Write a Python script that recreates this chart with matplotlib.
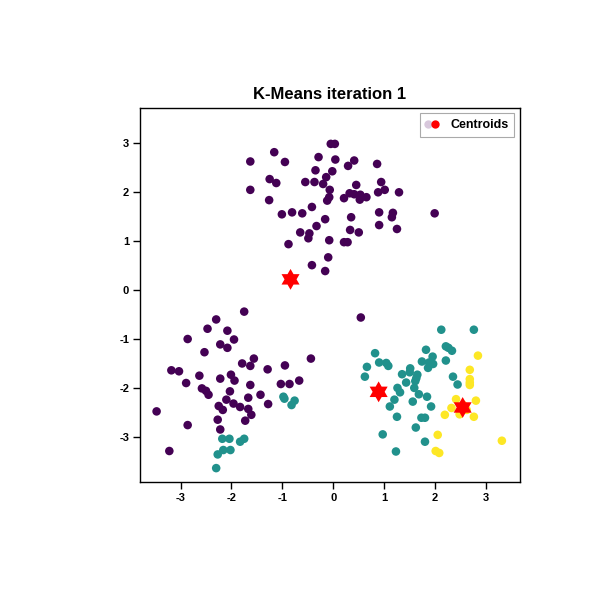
import numpy as np
import matplotlib
matplotlib.use("Agg")
import matplotlib.pyplot as plt
from matplotlib.path import Path
from matplotlib.lines import Line2D
from matplotlib.legend_handler import HandlerTuple

# ---- data ----
purple_x = [-0.05, 0.03, -1.16, -1.63, -0.95, -0.29, 0.04, 0.41, 0.29, 0.86,
            -0.35, -0.02, -0.14, -1.25, -1.12, -0.55, -0.37, -0.20, 0.45, 0.94,
            -1.63, -0.07, 0.88, 1.01, 1.29, 0.32, 0.41, 0.53, 0.65, 0.52,
            0.21, -0.08, -0.12, -1.26, -0.42, -1.01, -0.81, -0.61, 0.35, 0.90,
            1.17, 1.15, 1.99, -0.16, -0.33, -0.65, -0.47, -0.49, 0.33, 0.50,
            0.90, 1.25, -0.88, -0.08, 0.21, 0.28, -0.10, -0.42, -0.16,
            -1.75, -2.30, -2.47, -2.08, -2.86, -1.95, -2.22, -2.08, -2.53, -1.56,
            -0.44, -1.79, -1.63, -0.95, -1.29, -3.18, -3.03, -2.63, -2.01, -2.22,
            -1.94, -2.89, -0.67, -1.03, -0.86, -1.63, -2.58, -2.50, -2.45, -2.03,
            -1.43, -1.67, -2.10, -1.96, -1.28, -2.25, -2.17, -1.83, -1.67, -1.61,
            -3.47, -2.27, -1.73, -2.86, -2.22, -3.22, 0.54]
purple_y = [2.99, 2.99, 2.82, 2.63, 2.62, 2.72, 2.67, 2.65, 2.54, 2.58,
            2.45, 2.43, 2.31, 2.27, 2.19, 2.21, 2.21, 2.17, 2.15, 2.21,
            2.05, 2.05, 2.00, 2.05, 2.00, 1.98, 1.96, 1.95, 1.90, 1.85,
            1.88, 1.90, 1.83, 1.84, 1.70, 1.55, 1.59, 1.57, 1.49, 1.59,
            1.58, 1.49, 1.57, 1.45, 1.31, 1.18, 1.16, 1.06, 1.23, 1.18,
            1.33, 1.25, 0.94, 1.02, 0.98, 0.98, 0.67, 0.51, 0.39,
            -0.44, -0.60, -0.79, -0.83, -1.00, -1.01, -1.11, -1.18, -1.27, -1.40,
            -1.40, -1.50, -1.55, -1.54, -1.62, -1.64, -1.66, -1.75, -1.73, -1.81,
            -1.85, -1.90, -1.85, -1.92, -1.92, -1.94, -2.01, -2.06, -2.14, -2.07,
            -2.14, -2.20, -2.24, -2.32, -2.33, -2.37, -2.45, -2.39, -2.43, -2.55,
            -2.48, -2.65, -2.67, -2.76, -2.85, -3.29, -0.56]

teal_x = [-0.98, -0.96, -0.76, -0.82, -2.18, -2.04, -1.75, -1.83, -2.16, -2.02,
          -2.27, -2.30,
          2.12, 2.76, 2.21, 2.26, 2.33, 1.82, 0.82, 1.95, 2.21, 0.90,
          1.04, 1.08, 0.66, 1.74, 1.88, 1.96, 1.86, 1.51, 1.50, 1.35,
          0.62, 2.35, 1.65, 1.63, 1.61, 1.43, 2.44, 1.59, 1.26, 1.31,
          1.68, 1.84, 1.20, 1.56, 1.11, 1.92, 1.25, 1.73, 1.80, 1.62,
          0.97, 1.80, 1.23]
teal_y = [-2.18, -2.22, -2.26, -2.35, -3.04, -3.04, -3.04, -3.10, -3.27, -3.27,
          -3.36, -3.64,
          -0.81, -0.81, -1.15, -1.18, -1.24, -1.22, -1.29, -1.36, -1.44, -1.48,
          -1.49, -1.55, -1.57, -1.46, -1.48, -1.51, -1.59, -1.60, -1.68, -1.72,
          -1.77, -1.77, -1.73, -1.80, -1.86, -1.89, -1.93, -2.00, -2.00, -2.09,
          -2.13, -2.18, -2.24, -2.28, -2.38, -2.38, -2.59, -2.61, -2.61, -2.81,
          -2.95, -3.10, -3.30]

yellow_x = [2.84, 2.68, 2.68, 2.68, 2.68, 2.41, 2.80, 2.32, 2.19, 2.48,
            2.76, 2.05, 3.31, 2.01, 2.08, 2.55, 2.62]
yellow_y = [-1.34, -1.63, -1.82, -1.89, -1.94, -2.23, -2.26, -2.41, -2.55, -2.54,
            -2.59, -2.96, -3.08, -3.29, -3.33, -2.35, -2.45]

centroid_x = [-0.84, 0.89, 2.54]
centroid_y = [0.22, -2.08, -2.40]

title_text = "K-Means iteration 1"
legend_label = "Centroids"
x_ticks = [-3, -2, -1, 0, 1, 2, 3]
y_ticks = [-3, -2, -1, 0, 1, 2, 3]

# ---- style ----
cmap = plt.get_cmap("viridis")
c_purple, c_teal, c_yellow = cmap(0.0), cmap(0.5), cmap(1.0)

plt.rcParams['font.family'] = ['Liberation Sans', 'DejaVu Sans']
plt.rcParams['axes.unicode_minus'] = False

# hexagram marker
ang_out = np.deg2rad(90 + np.arange(6) * 60)
ang_in = np.deg2rad(120 + np.arange(6) * 60)
r_in = 1 / np.sqrt(3)
verts = []
for a_o, a_i in zip(ang_out, ang_in):
    verts.append((np.cos(a_o), np.sin(a_o)))
    verts.append((r_in * np.cos(a_i), r_in * np.sin(a_i)))
verts.append(verts[0])
codes = [Path.MOVETO] + [Path.LINETO] * (len(verts) - 2) + [Path.CLOSEPOLY]
hexagram = Path(verts, codes)

fig = plt.figure(figsize=(6, 6), dpi=100)
ax = fig.add_axes([140.3 / 600, 1 - 482.3 / 600, (519.7 - 140.3) / 600, (482.3 - 107.7) / 600])

dot_s = 38
ax.scatter(purple_x, purple_y, s=dot_s, color=c_purple, edgecolors='none', zorder=2)
ax.scatter(teal_x, teal_y, s=dot_s, color=c_teal, edgecolors='none', zorder=2)
ax.scatter(yellow_x, yellow_y, s=dot_s, color=c_yellow, edgecolors='none', zorder=2)
ax.scatter(centroid_x, centroid_y, s=15 ** 2, marker=hexagram, color='red',
           edgecolors='none', zorder=3)

ax.set_xlim(-3.79, 3.66)
ax.set_ylim(-3.93, 3.73)
ax.set_xticks(x_ticks)
ax.set_yticks(y_ticks)
ax.tick_params(axis='both', direction='out', length=5, width=1, labelsize=8,
               top=False, right=False, pad=3)
for lbl in ax.get_xticklabels() + ax.get_yticklabels():
    lbl.set_fontweight('bold')
for sp in ax.spines.values():
    sp.set_linewidth(1)
    sp.set_color('black')

ax.set_title(title_text, fontsize=12, fontweight='bold', pad=6)

h1 = Line2D([], [], linestyle='none', marker='o', markersize=6,
            markerfacecolor='#d8c8dc', markeredgecolor='none')
h2 = Line2D([], [], linestyle='none', marker='o', markersize=6,
            markerfacecolor='red', markeredgecolor='none')
leg = ax.legend([(h1, h2)], [legend_label], handler_map={tuple: HandlerTuple(ndivide=None, pad=0.1)},
                loc='upper right', fancybox=False, framealpha=1, edgecolor='#aaaaaa',
                prop={'weight': 'bold', 'size': 9}, handlelength=1.0, handletextpad=1.0,
                borderaxespad=0.45, borderpad=0.45)
leg.get_frame().set_linewidth(0.8)

fig.savefig("out.png", dpi=100)
